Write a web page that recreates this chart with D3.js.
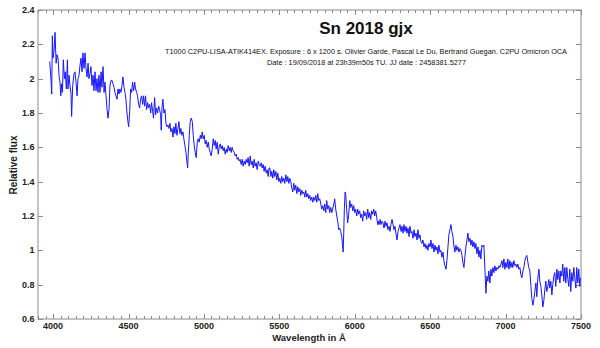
<!DOCTYPE html>
<html><head><meta charset="utf-8">
<script src="https://cdn.jsdelivr.net/npm/d3@7"></script>
<style>body{margin:0;background:#fff}svg{display:block;font-family:"Liberation Sans",Arial,sans-serif}</style>
</head><body><svg id="c" width="600" height="348"></svg>
<script>
const title = "Sn 2018 gjx";
const subtitle1 = "T1000 C2PU-LISA-ATIK414EX. Exposure : 6 x 1200 s. Olivier Garde, Pascal Le Du, Bertrand Guegan. C2PU Omicron OCA";
const subtitle2 = "Date : 19/09/2018 at 23h39m50s TU. JJ date : 2458381.5277";
const xLabel = "Wavelength in Å";
const yLabel = "Relative flux";
const xTickLabels = [4000, 4500, 5000, 5500, 6000, 6500, 7000, 7500];
const yTickLabels = [0.6, 0.8, 1.0, 1.2, 1.4, 1.6, 1.8, 2.0, 2.2, 2.4];

const wavelength = [
3978,3987,3991,3995,4000,4006,4013,4020,4026,4033,4040,4046,4051,4057,4062,4068,4075,4081,4088,4095,4099,4106,4112,4119,4123,4130,4139,4145,4152,4159,4165,4172,4179,4185,4192,4198,4205,4212,4218,4225,4232,4238,4245,4251,4258,4265,4271,4278,4285,4291,4298,4304,4311,4318,4324,4331,4338,4344,4351,4357,4364,4371,4377,4384,4391,4397,4404,4410,4417,4424,4430,4437,4443,4450,4457,4463,4470,4477,4483,4490,4496,4501,4508,4514,4521,4527,4534,4541,4547,4554,4560,4567,4574,4580,4587,4594,4600,4607,4613,4620,4627,4633,4640,4647,4653,4660,4666,4673,4680,4686,4693,4700,4706,
4713,4717,4722,4728,4735,4742,4748,4755,4761,4768,4775,4781,4788,4795,4801,4808,4814,4821,4828,4834,4841,4847,4854,4861,4867,4874,4881,4887,4892,4896,4903,4909,4916,4923,4929,4936,4942,4949,4956,4962,4969,4976,4982,4989,4995,5002,5009,5015,5022,5029,5035,5042,5048,5055,5062,5068,5075,5081,5088,5095,5101,5108,5115,5121,5128,5134,5141,5148,5154,5161,5168,5174,5181,5187,5194,5201,5207,5214,5221,5227,5234,5240,5247,5254,5260,5267,5274,5280,5287,5293,5300,5307,5313,5320,5327,5333,5340,5346,5353,5360,5366,5373,5380,5386,5393,5399,5406,5413,5419,5426,5432,
5437,5444,5450,5457,5463,5470,5477,5483,5490,5497,5503,5510,5516,5523,5530,5536,5543,5550,5556,5563,5569,5576,5583,5589,5596,5602,5609,5616,5622,5629,5636,5642,5649,5655,5662,5669,5675,5682,5689,5695,5702,5708,5715,5722,5728,5735,5742,5748,5755,5761,5768,5775,5781,5788,5795,5801,5808,5814,5821,5828,5834,5841,5848,5854,5861,5867,5874,5881,5887,5894,5900,5907,5914,5918,5923,5927,5931,5936,5940,5947,5953,5960,5967,5973,5980,5987,5993,6000,6006,6013,6020,6026,6033,6040,6046,6053,6059,6066,6073,6079,6086,6093,6099,6106,6112,6119,6126,6132,6139,6146,6152,6159,
6161,6168,6174,6181,6187,6194,6201,6207,6214,6220,6227,6234,6240,6247,6254,6260,6267,6273,6280,6287,6293,6300,6307,6313,6320,6326,6333,6340,6346,6353,6360,6366,6373,6379,6386,6393,6399,6406,6413,6419,6426,6432,6439,6446,6452,6459,6466,6472,6479,6485,6492,6499,6505,6512,6519,6525,6532,6538,6545,6552,6558,6565,6571,6578,6585,6591,6598,6605,6611,6618,6624,6631,6638,6644,6651,6658,6664,6671,6677,6684,6691,6697,6704,6711,6717,6724,6730,6737,6744,6750,6757,6764,6770,6777,6783,6790,6797,6803,6810,6817,6823,6830,6836,6843,6850,
6856,6863,6870,6876,6883,6889,6896,6903,6909,6916,6923,6929,6936,6942,6949,6956,6962,6969,6976,6982,6989,6995,7002,7009,7015,7022,7028,7035,7042,7048,7055,7062,7068,7075,7081,7088,7095,7101,7108,7115,7121,7128,7134,7141,7148,7154,7161,7168,7174,7181,7187,7194,7201,7207,7214,7221,7227,7234,7240,7247,7254,7260,7267,7273,7280,7287,7293,7300,7307,7313,7320,7326,7333,7340,7346,7353,7360,7366,7373,7379,7386,7393,7399,7406,7413,7419,7426,7432,7439,7446,7452,7459,7466,7472,7479,7485,7492,7496];

const flux = [
2.10,1.98,1.91,2.25,2.12,2.16,2.27,2.09,2.14,2.12,2.01,1.98,1.90,1.97,1.92,2.11,2.00,2.04,1.94,2.11,1.94,2.02,1.96,1.91,1.78,1.96,2.03,2.04,1.98,1.90,2.00,2.02,2.08,2.12,2.04,2.15,2.06,2.15,2.06,2.01,2.09,2.00,2.03,2.07,1.96,2.02,1.93,2.04,1.93,2.00,1.92,2.02,1.92,2.04,1.95,2.07,1.92,1.98,1.90,1.83,1.77,1.82,1.96,1.99,1.99,1.97,1.95,1.92,1.90,1.88,1.94,1.91,1.94,1.92,1.96,2.01,1.95,1.92,1.88,1.80,1.75,1.72,1.81,1.94,1.92,1.98,1.93,1.98,1.94,1.92,1.90,1.85,1.83,1.88,1.90,1.85,1.90,1.84,1.90,1.82,1.86,1.83,1.85,1.80,1.86,1.81,1.77,1.89,1.79,1.83,1.80,1.84,1.82,
1.79,1.70,1.83,1.88,1.80,1.82,1.74,1.72,1.73,1.71,1.74,1.69,1.71,1.66,1.72,1.68,1.74,1.67,1.71,1.75,1.68,1.71,1.67,1.69,1.65,1.61,1.57,1.52,1.48,1.56,1.67,1.75,1.77,1.75,1.67,1.61,1.57,1.54,1.63,1.65,1.63,1.67,1.65,1.69,1.65,1.67,1.62,1.64,1.60,1.63,1.59,1.57,1.55,1.59,1.65,1.61,1.64,1.59,1.63,1.56,1.60,1.62,1.59,1.61,1.58,1.60,1.56,1.59,1.57,1.61,1.58,1.60,1.57,1.60,1.58,1.57,1.55,1.56,1.53,1.54,1.52,1.53,1.50,1.53,1.49,1.52,1.50,1.53,1.51,1.54,1.49,1.55,1.50,1.52,1.48,1.53,1.49,1.51,1.47,1.52,1.50,1.49,1.51,1.48,1.50,1.46,1.49,1.45,1.47,1.43,1.48,
1.48,1.43,1.46,1.42,1.47,1.43,1.46,1.41,1.45,1.40,1.42,1.39,1.43,1.40,1.42,1.39,1.44,1.40,1.43,1.39,1.42,1.40,1.36,1.34,1.39,1.35,1.38,1.33,1.37,1.34,1.36,1.32,1.35,1.33,1.34,1.31,1.35,1.31,1.33,1.30,1.32,1.29,1.31,1.28,1.31,1.29,1.32,1.28,1.33,1.29,1.30,1.27,1.24,1.26,1.23,1.27,1.22,1.29,1.24,1.26,1.22,1.25,1.22,1.24,1.27,1.30,1.24,1.20,1.17,1.12,1.13,1.11,1.08,1.04,0.99,1.10,1.24,1.34,1.33,1.23,1.16,1.21,1.29,1.25,1.27,1.23,1.26,1.22,1.24,1.20,1.24,1.21,1.23,1.19,1.21,1.17,1.23,1.20,1.22,1.18,1.24,1.19,1.22,1.18,1.23,1.21,1.24,1.20,1.23,1.19,1.15,1.17,
1.15,1.18,1.15,1.17,1.16,1.13,1.17,1.14,1.16,1.12,1.14,1.11,1.15,1.18,1.15,1.12,1.14,1.10,1.06,1.11,1.13,1.15,1.11,1.14,1.10,1.15,1.11,1.14,1.10,1.13,1.08,1.14,1.10,1.11,1.07,1.12,1.08,1.10,1.06,1.12,1.07,1.09,1.05,1.04,1.06,1.02,1.04,1.01,1.03,1.00,1.04,1.02,1.06,1.01,1.04,0.99,1.03,1.00,1.02,0.98,1.03,0.99,1.00,0.96,0.99,0.94,0.91,0.89,0.94,1.02,1.09,1.12,1.15,1.11,1.08,1.02,0.99,1.03,1.00,1.02,0.99,1.01,1.00,0.97,0.93,0.90,0.96,1.02,1.06,1.10,1.05,1.07,1.03,1.06,1.02,1.05,1.01,1.04,0.98,1.02,0.96,1.00,0.95,1.03,1.02,
1.03,0.89,0.75,0.85,0.82,0.88,0.81,0.89,0.85,0.90,0.87,0.91,0.88,0.90,0.89,0.91,0.90,0.92,0.94,0.90,0.95,0.89,0.93,0.90,0.95,0.89,0.94,0.90,0.93,0.90,0.94,0.91,0.92,0.90,0.92,0.89,0.90,0.86,0.84,0.88,0.90,0.94,0.96,0.97,0.93,0.90,0.88,0.79,0.72,0.68,0.71,0.76,0.81,0.73,0.84,0.89,0.82,0.79,0.74,0.67,0.71,0.77,0.82,0.76,0.79,0.83,0.78,0.82,0.74,0.80,0.85,0.87,0.79,0.89,0.83,0.88,0.81,0.88,0.85,0.92,0.82,0.90,0.81,0.90,0.83,0.79,0.89,0.76,0.87,0.82,0.90,0.84,0.78,0.90,0.81,0.89,0.79,0.84];

const svg = d3.select("#c");
const L = 38, R = 581, T = 10, B = 319;
const x = d3.scaleLinear().domain([3900, 7500]).range([L, R]);
const y = d3.scaleLinear().domain([0.6, 2.4]).range([B, T]);
const axisColor = "#8c8c8c";

// frame
svg.append("rect").attr("x", L).attr("y", T).attr("width", R - L).attr("height", B - T)
  .attr("fill", "none").attr("stroke", axisColor).attr("stroke-width", 1);

// x ticks (major 500, minor 50)
const minor = d3.range(3900, 7501, 50);
minor.forEach(v => {
  const major = v % 500 === 0;
  const len = major ? 5 : 3;
  const px = Math.round(x(v)) + 0.5;
  svg.append("line").attr("x1", px).attr("x2", px).attr("y1", B).attr("y2", B - len).attr("stroke", axisColor);
  svg.append("line").attr("x1", px).attr("x2", px).attr("y1", T).attr("y2", T + len).attr("stroke", axisColor);
});
xTickLabels.forEach(v => {
  svg.append("text").attr("x", x(v)).attr("y", 329).attr("text-anchor", "middle")
    .attr("font-size", 9).attr("font-weight", "bold").attr("fill", "#222").text(v);
});
// y ticks
yTickLabels.forEach(v => {
  const py = Math.round(y(v)) + 0.5;
  svg.append("line").attr("x1", L).attr("x2", L + 5).attr("y1", py).attr("y2", py).attr("stroke", axisColor);
  svg.append("line").attr("x1", R).attr("x2", R - 5).attr("y1", py).attr("y2", py).attr("stroke", axisColor);
  svg.append("text").attr("x", 34.5).attr("y", y(v)).attr("dy", "0.35em").attr("text-anchor", "end")
    .attr("font-size", 9).attr("font-weight", "bold").attr("fill", "#222").text(+v.toFixed(1));
});

// spectrum
const pts = wavelength.map((w, i) => [w, flux[i]]);
const line = d3.line().x(d => x(d[0])).y(d => y(d[1]));
svg.append("path").attr("d", line(pts)).attr("fill", "none")
  .attr("stroke", "#1515ff").attr("stroke-width", 1).attr("stroke-linejoin", "round");

// titles
svg.append("text").attr("x", 366).attr("y", 34).attr("text-anchor", "middle")
  .attr("font-size", 17).attr("font-weight", "bold").attr("fill", "#111").text(title);
svg.append("text").attr("x", 366).attr("y", 53.5).attr("text-anchor", "middle")
  .attr("font-size", 7.6).attr("fill", "#111").attr("textLength", 402).attr("lengthAdjust", "spacingAndGlyphs").text(subtitle1);
svg.append("text").attr("x", 366.5).attr("y", 64.5).attr("text-anchor", "middle")
  .attr("font-size", 7.6).attr("fill", "#111").attr("textLength", 199).attr("lengthAdjust", "spacingAndGlyphs").text(subtitle2);

// axis labels
svg.append("text").attr("x", 309).attr("y", 340.5).attr("text-anchor", "middle")
  .attr("font-size", 9.5).attr("font-weight", "bold").attr("fill", "#222").text(xLabel);
svg.append("text").attr("transform", "translate(17,165) rotate(-90)").attr("text-anchor", "middle")
  .attr("font-size", 10).attr("font-weight", "bold").attr("fill", "#222").text(yLabel);
</script></body></html>
